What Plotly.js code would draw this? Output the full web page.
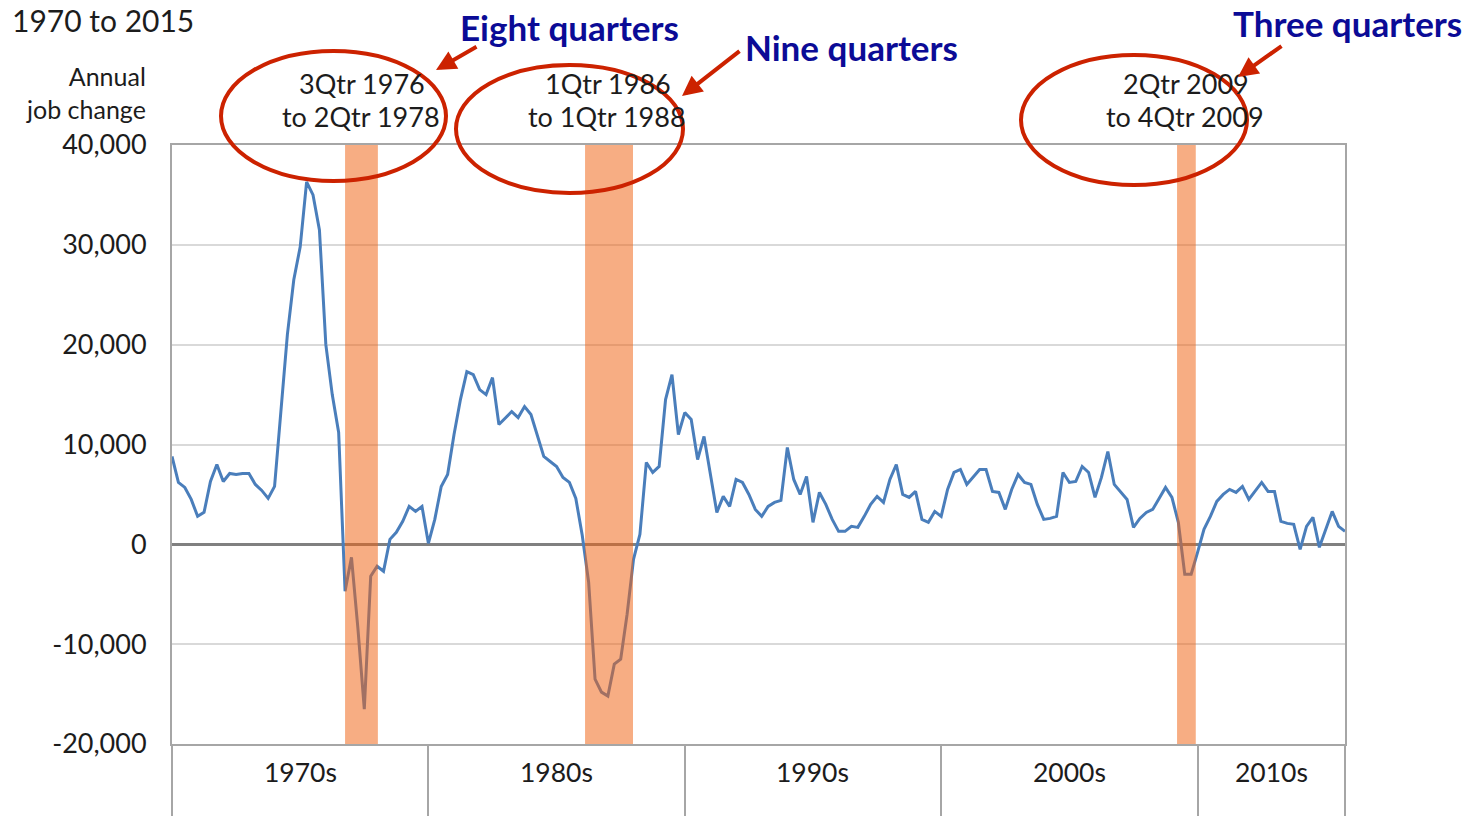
<!DOCTYPE html>
<html>
<head>
<meta charset="utf-8">
<script src="https://cdn.plot.ly/plotly-3.0.1.min.js"></script>
<style>
  html, body { margin: 0; padding: 0; background: #ffffff; }
  #chart { width: 1480px; height: 816px; }
</style>
</head>
<body>
<div id="chart"></div>
<script>
// ---- data ----
var startYear = 1970;            // first quarter: 1Qtr 1970
var jobChange = [                // annual job change, one value per quarter
  8800, 6200, 5700, 4500, 2800, 3200, 6300, 8000,
  6300, 7100, 7000, 7100, 7100, 6000, 5400, 4600,
  5800, 13600, 21000, 26500, 29800, 36300, 35000, 31500,
  20000, 15000, 11200, -4700, -1300, -8400, -16500, -3200,
  -2200, -2700, 500, 1200, 2300, 3800, 3300, 3800,
  100, 2500, 5800, 7000, 11000, 14500, 17300, 17000,
  15500, 15000, 16700, 12000, 12600, 13300, 12700, 13800,
  13000, 11000, 8800, 8300, 7800, 6700, 6200, 4600,
  900, -3800, -13500, -14800, -15200, -12000, -11500, -7000,
  -1500, 1000, 8200, 7200, 7800, 14500, 17000, 11000,
  13200, 12500, 8500, 10800, 7000, 3200, 4800, 3800,
  6500, 6200, 5000, 3500, 2800, 3800, 4200, 4400,
  9700, 6500, 5000, 6800, 2200, 5200, 4000, 2500,
  1300, 1300, 1800, 1700, 2800, 4000, 4800, 4200,
  6500, 8000, 5000, 4700, 5300, 2500, 2200, 3300,
  2800, 5500, 7200, 7500, 6000, 6700, 7500, 7500,
  5300, 5200, 3500, 5500, 7000, 6200, 6000, 4000,
  2500, 2600, 2800, 7200, 6200, 6300, 7800, 7200,
  4700, 6700, 9300, 6000, 5200, 4500, 1700, 2600,
  3200, 3500, 4600, 5700, 4700, 2200, -3000, -3000,
  -800, 1500, 2800, 4300, 5000, 5500, 5200, 5800,
  4500, 5300, 6200, 5300, 5300, 2300, 2100, 2000,
  -500, 1800, 2700, -300, 1500, 3300, 1800, 1300
];
var decadeLabels = ['1970s', '1980s', '1990s', '2000s', '2010s'];
var decadeStarts = [1970, 1980, 1990, 2000, 2010];
var decadeEnds   = [1980, 1990, 2000, 2010, 2015.75];
var yTickVals  = [-20000, -10000, 0, 10000, 20000, 30000, 40000];
var yTickText  = ['-20,000', '-10,000', '0', '10,000', '20,000', '30,000', '40,000'];
var declineStart = [1976.75, 1986.11, 2009.2];
var declineEnd   = [1978.03, 1987.98, 2009.93];
var declineLabels = ['3Qtr 1976<br>to 2Qtr 1978', '1Qtr 1986<br>to 1Qtr 1988', '2Qtr 2009<br>to 4Qtr 2009'];
var declineLengths = ['Eight quarters', 'Nine quarters', 'Three quarters'];
var yCaption = 'Annual<br>job change';
var chartTitle = '1970 to 2015';

// ---- build ----
var xs = jobChange.map(function (v, i) { return startYear + i / 4; });

// plot-area geometry (pixels) used for decorations placed in paper space
var L = 172, R = 1345, T = 145, B = 744;
function px(x) { return (x - L) / (R - L); }
function py(y) { return (B - y) / (B - T); }

var FONT = 'Lato, "Open Sans", sans-serif';
var TXT = '#1c1c1c';
var RED = '#cc2200';
var BLUE = '#0b0b96';

var shapes = [];
declineStart.forEach(function (s, k) {
  shapes.push({
    type: 'rect', xref: 'x', yref: 'y', layer: 'above',
    x0: s, x1: declineEnd[k], y0: -20000, y1: 40000,
    fillcolor: 'rgba(240,100,20,0.53)', line: { width: 0 }
  });
});
// red ellipses around period labels (pixel boxes)
var ellipses = [[221, 51, 446, 181], [456, 65, 683, 193], [1021, 55, 1247, 185]];
ellipses.forEach(function (e) {
  shapes.push({
    type: 'circle', xref: 'paper', yref: 'paper', layer: 'above',
    x0: px(e[0]), x1: px(e[2]), y0: py(e[3]), y1: py(e[1]),
    line: { color: RED, width: 4 }, fillcolor: 'rgba(0,0,0,0)'
  });
});

var annotations = [];
function textAt(xPix, yPix, text, size, color, xanchor, align) {
  annotations.push({
    xref: 'paper', yref: 'paper', x: px(xPix), y: py(yPix),
    xanchor: xanchor || 'center', yanchor: 'middle', align: align || 'center',
    showarrow: false, text: text, font: { family: FONT, size: size, color: color }
  });
}
// title at the top
annotations.push({
  xref: 'paper', yref: 'paper', x: px(10), y: py(0),
  xanchor: 'left', yanchor: 'top', showarrow: false,
  text: chartTitle, font: { family: FONT, size: 30, color: TXT }
});
// y-axis caption
textAt(148, 93, yCaption, 25, TXT, 'right', 'right');
// decade labels
decadeLabels.forEach(function (d, k) {
  annotations.push({
    xref: 'x', yref: 'paper', x: (decadeStarts[k] + decadeEnds[k]) / 2, y: py(772),
    xanchor: 'center', yanchor: 'middle', showarrow: false,
    text: d, font: { family: FONT, size: 26.5, color: TXT }
  });
});
// period labels
var labelCenters = [362, 608, 1186];
declineLabels.forEach(function (t, k) {
  var lines = t.split('<br>');
  textAt(labelCenters[k], 84, lines[0], 27, TXT);
  textAt(labelCenters[k] - 1, 117, lines[1], 27, TXT);
});
// blue callouts
var calloutPos = [[569, 27], [851, 47], [1347, 23]];
declineLengths.forEach(function (t, k) {
  textAt(calloutPos[k][0], calloutPos[k][1], '<b>' + t + '</b>', 35, BLUE);
});
// red arrows: [headX, headY, tailX, tailY]
var arrows = [[436, 70, 478, 46], [682, 96, 741, 50], [1238, 77, 1283, 45]];
arrows.forEach(function (a) {
  annotations.push({
    xref: 'paper', yref: 'paper', x: px(a[0]), y: py(a[1]),
    ax: a[2] - a[0], ay: a[3] - a[1], text: '', showarrow: true,
    arrowhead: 2, arrowsize: 1, arrowwidth: 4, arrowcolor: RED, standoff: 0
  });
});

var trace = {
  type: 'scatter', mode: 'lines', x: xs, y: jobChange,
  line: { color: '#4a7ebb', width: 3 }, hoverinfo: 'x+y'
};

var layout = {
  width: 1480, height: 816, autosize: false,
  margin: { l: L, r: 1480 - R, t: T, b: 816 - B, pad: 0 },
  paper_bgcolor: '#ffffff', plot_bgcolor: '#ffffff',
  font: { family: FONT, color: TXT, size: 26 },
  showlegend: false,
  xaxis: {
    range: [startYear, 2015.75], showgrid: false, zeroline: false,
    showline: true, mirror: true, linecolor: '#a6a6a6', linewidth: 2,
    tickmode: 'array', tickvals: decadeStarts.concat([2015.75]),
    ticks: 'outside', ticklen: 90, tickwidth: 2, tickcolor: '#a6a6a6',
    showticklabels: false, fixedrange: true
  },
  yaxis: {
    range: [-20000, 40000], tickmode: 'array', tickvals: yTickVals, ticktext: yTickText,
    showgrid: true, gridcolor: '#d9d9d9', gridwidth: 2,
    zeroline: true, zerolinecolor: '#808080', zerolinewidth: 3,
    showline: true, mirror: true, linecolor: '#a6a6a6', linewidth: 2,
    ticks: '', ticklabelstandoff: 18,
    tickfont: { family: FONT, size: 27, color: TXT }, fixedrange: true
  },
  shapes: shapes,
  annotations: annotations
};

Plotly.newPlot('chart', [trace], layout, { displayModeBar: false, staticPlot: true });
</script>
</body>
</html>
